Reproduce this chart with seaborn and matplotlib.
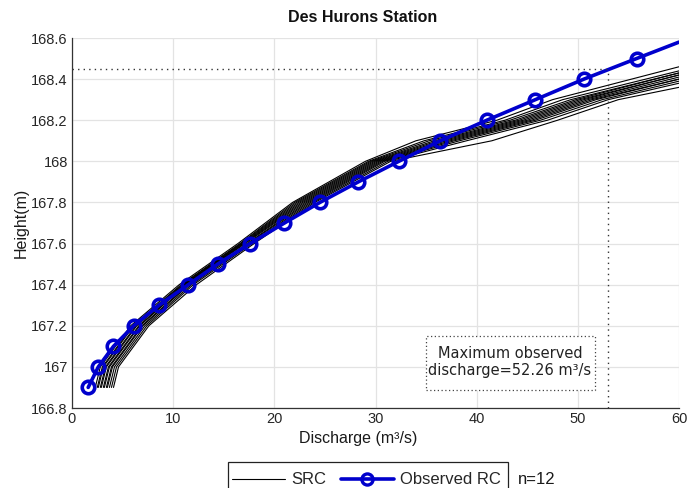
import numpy as np
import pandas as pd
import matplotlib
matplotlib.use("Agg")
import matplotlib.pyplot as plt
from matplotlib.lines import Line2D
from matplotlib.patches import Rectangle
import seaborn as sns

# ---- data ----
obs_height = [166.9, 167.0, 167.1, 167.2, 167.3, 167.4, 167.5, 167.6, 167.7,
              167.8, 167.9, 168.0, 168.1, 168.2, 168.3, 168.4, 168.5, 168.58]
obs_discharge = [1.6, 2.6, 4.1, 6.1, 8.6, 11.5, 14.4, 17.6, 21.0,
                 24.5, 28.3, 32.3, 36.4, 41.0, 45.8, 50.6, 55.8, 60.0]
obs_marker_count = 17  # the last point is the line end, without marker

src_height = [166.9, 167.0, 167.2, 167.4, 167.6, 167.8, 168.0, 168.1, 168.2, 168.3]
src_discharge = [
    [2.3, 2.8, 5.8, 10.6, 16.4, 21.8, 29.0, 34.0, 42.0, 47.5],
    [2.5, 3.0, 6.0, 10.8, 16.6, 22.0, 29.3, 34.8, 42.8, 48.5],
    [2.6, 3.1, 6.1, 10.9, 16.7, 22.2, 29.5, 35.3, 43.3, 49.3],
    [2.8, 3.3, 6.3, 11.0, 16.8, 22.4, 29.7, 35.8, 43.8, 49.8],
    [2.9, 3.4, 6.4, 11.1, 16.9, 22.6, 29.9, 36.2, 44.2, 50.2],
    [3.1, 3.6, 6.6, 11.2, 17.0, 22.8, 30.1, 36.6, 44.6, 50.6],
    [3.2, 3.7, 6.7, 11.3, 17.1, 23.0, 30.3, 37.0, 45.0, 51.0],
    [3.4, 3.9, 6.9, 11.5, 17.3, 23.2, 30.5, 37.4, 45.4, 51.4],
    [3.5, 4.0, 7.0, 11.6, 17.4, 23.4, 30.7, 37.8, 45.8, 51.8],
    [3.7, 4.2, 7.2, 11.8, 17.6, 23.6, 30.9, 38.3, 46.3, 52.4],
    [3.9, 4.4, 7.4, 12.0, 17.8, 23.8, 31.2, 39.0, 47.0, 53.0],
    [4.1, 4.6, 7.6, 12.3, 18.0, 24.0, 31.5, 41.5, 48.0, 54.0],
]
src_end_discharge = 60.0
src_end_height = [168.46, 168.44, 168.43, 168.43, 168.42, 168.42,
                  168.41, 168.40, 168.40, 168.39, 168.38, 168.36]

max_obs_discharge_line = 53.0
max_obs_height_line = 168.45

x_ticks = [0, 10, 20, 30, 40, 50, 60]
y_ticks = [166.8, 167.0, 167.2, 167.4, 167.6, 167.8, 168.0, 168.2, 168.4, 168.6]
y_tick_labels = ["166.8", "167", "167.2", "167.4", "167.6", "167.8", "168",
                 "168.2", "168.4", "168.6"]

# ---- tidy frame ----
rows = []
for i, (qs, hend) in enumerate(zip(src_discharge, src_end_height)):
    for q, h in zip(qs, src_height):
        rows.append({"curve": i, "Q": q, "H": h})
    rows.append({"curve": i, "Q": src_end_discharge, "H": hend})
df_src = pd.DataFrame(rows)
df_obs = pd.DataFrame({"Q": obs_discharge, "H": obs_height})

sns.set_style("white")
plt.rcParams["font.family"] = ["Liberation Sans", "DejaVu Sans"]

W, H = 687, 488
fig = plt.figure(figsize=(6.87, 4.88), dpi=100)
ax = fig.add_axes([72 / W, 1 - 408 / H, (679 - 72) / W, (408 - 38) / H])

blue = "#0000CC"
sns.lineplot(data=df_src, x="Q", y="H", units="curve", estimator=None,
             sort=False, color="black", lw=0.8, ax=ax, legend=False)
sns.lineplot(data=df_obs, x="Q", y="H", estimator=None, sort=False,
             color=blue, lw=2.6, ax=ax, legend=False)
ax.plot(df_obs["Q"][:obs_marker_count], df_obs["H"][:obs_marker_count],
        ls="none", marker="o", ms=9, mfc="none", mec=blue, mew=2.6)

# dotted reference lines
ax.plot([0, max_obs_discharge_line], [max_obs_height_line, max_obs_height_line],
        ls=(0, (1, 3)), color="#333333", lw=1.0)
ax.plot([max_obs_discharge_line, max_obs_discharge_line],
        [166.8, max_obs_height_line], ls=(0, (1, 3)), color="#333333", lw=1.0)

# annotation box
ax.add_patch(Rectangle(((426 - 72) / 607, (408 - 390) / 370), 169 / 607, 54 / 370,
                       transform=ax.transAxes, fc="white", ec="#444444",
                       ls=(0, (1, 2)), lw=0.9, zorder=4))
ax.text((510 - 72) / 607, (408 - 362) / 370,
        "Maximum observed\ndischarge=52.26 m³/s", transform=ax.transAxes,
        ha="center", va="center", fontsize=10.5, family="DejaVu Sans",
        color="#222222", linespacing=1.15, zorder=5)

ax.set_xlim(0, 60)
ax.set_ylim(166.8, 168.6)
ax.set_xticks(x_ticks)
ax.set_yticks(y_ticks)
ax.set_yticklabels(y_tick_labels)
ax.grid(True, color="#e3e3e3", lw=0.9)
ax.set_axisbelow(True)
for s in ["top", "right"]:
    ax.spines[s].set_visible(False)
for s in ["left", "bottom"]:
    ax.spines[s].set_color("#333333")
    ax.spines[s].set_linewidth(0.9)
ax.tick_params(direction="in", length=5, width=0.9, colors="#333333",
               labelsize=10.5, labelcolor="#262626", pad=3)
ax.set_xlabel("Discharge (m³/s)", fontsize=11.5, color="#1a1a1a")
ax.xaxis.set_label_coords((358 - 72) / 607, -(431 - 408) / 370)
ax.set_ylabel("Height(m)", fontsize=11.5, color="#1a1a1a", labelpad=2)

fig.text(363 / W, 1 - 18 / H, "Des Hurons Station", fontsize=11.5,
         fontweight="bold", color="#111111", ha="center", va="center")

# legend (frame drawn separately; it is cut by the figure's bottom edge)
handles = [Line2D([], [], color="black", lw=0.8),
           Line2D([], [], color=blue, lw=2.6, marker="o", ms=8, mfc="none",
                  mew=2.4)]
leg = fig.legend(handles, ["SRC", "Observed RC"], ncol=2,
                 loc="center left", bbox_to_anchor=(232 / W, 1 - 480 / H),
                 fontsize=12, frameon=False, handlelength=3.15,
                 columnspacing=0.9, handletextpad=0.4, borderpad=0,
                 borderaxespad=0)
fig.patches.append(Rectangle((228 / W, -0.05), 280 / W, 0.05 + (488 - 462) / H,
                             transform=fig.transFigure, fill=False,
                             ec="#222222", lw=0.9))
fig.text(518 / W, 1 - 480 / H, "n=12", fontsize=12, va="center",
         ha="left", color="#1a1a1a")

fig.savefig("out.png", dpi=100)
